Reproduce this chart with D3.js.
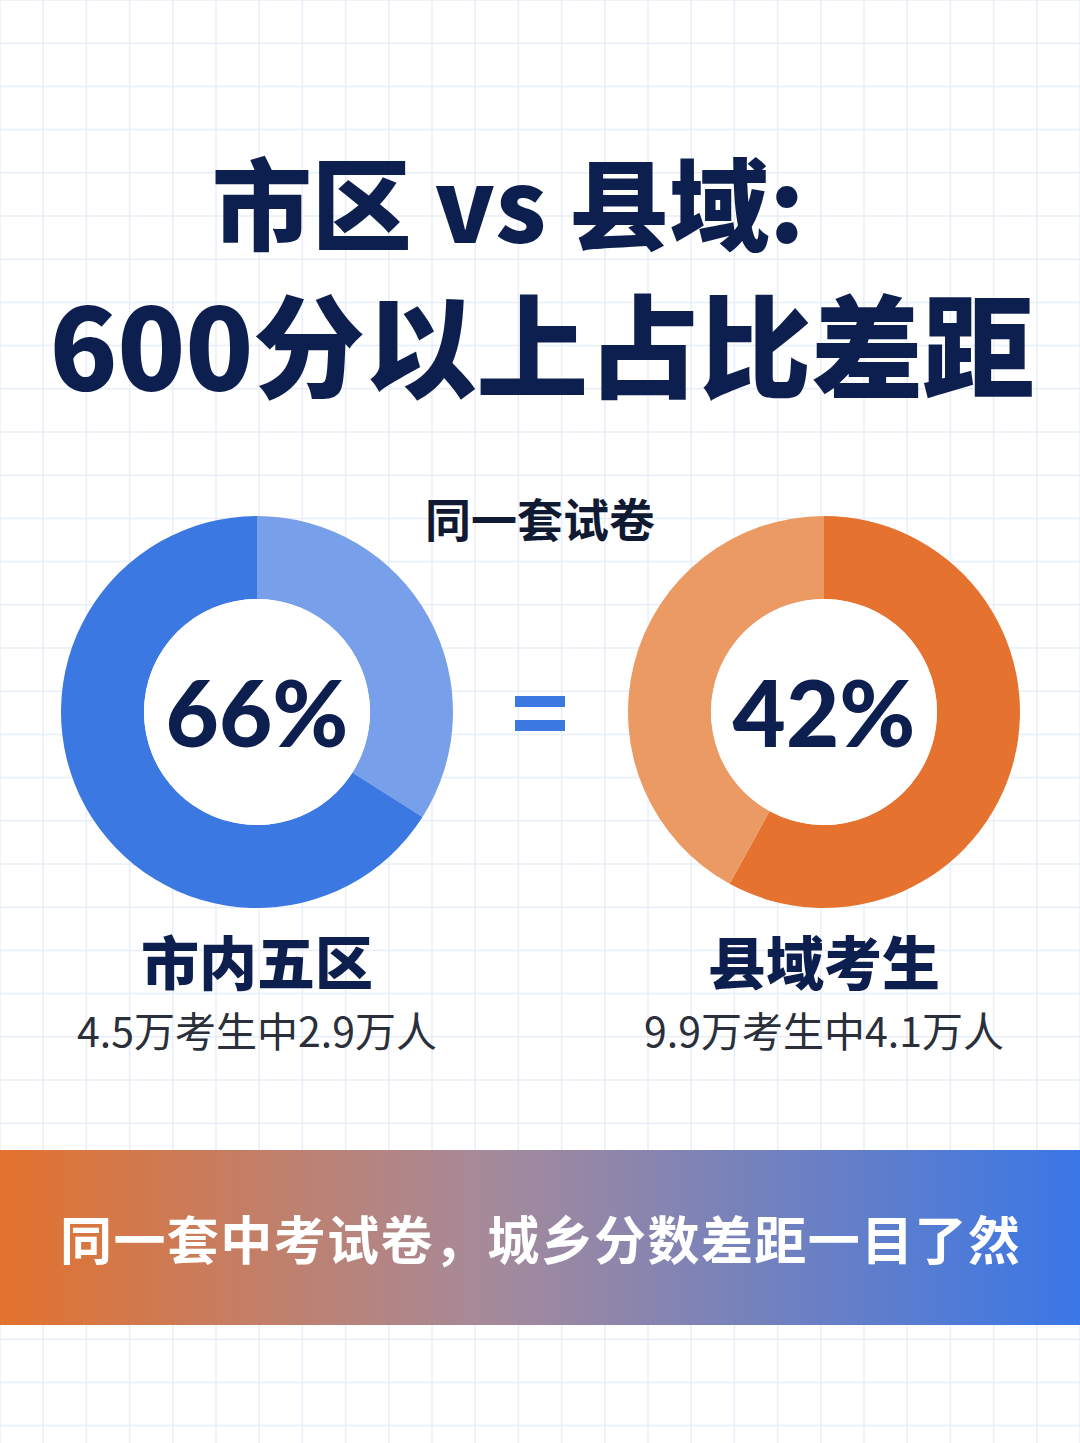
<!DOCTYPE html>
<html><head><meta charset="utf-8">
<script src="https://cdn.jsdelivr.net/npm/d3@7"></script>
<style>body{margin:0;background:#fff}svg{display:block}</style>
</head><body><div id="chart"></div>
<script>
var w = 1080, h = 1443;
var groups = ["市内五区", "县域考生"],
    shares = [66, 42],
    details = ["4.5万考生中2.9万人", "9.9万考生中4.1万人"],
    darkColors = ["#3b78e2", "#e5732f"],
    lightColors = ["#779fea", "#eb9a64"];
var font = "'Noto Sans CJK SC', sans-serif";

var svg = d3.select("#chart").append("svg").attr("width", w).attr("height", h);

// grid background
var gx = d3.range(0, w + 43, 43.2), gy = d3.range(0, h + 43, 43.2);
svg.selectAll(".vx").data(gx).enter().append("line")
    .attr("x1", function(d) { return d; }).attr("x2", function(d) { return d; })
    .attr("y1", 0).attr("y2", h).attr("stroke", "#e8eef7").attr("stroke-width", 1.5);
svg.selectAll(".hy").data(gy).enter().append("line")
    .attr("y1", function(d) { return d; }).attr("y2", function(d) { return d; })
    .attr("x1", 0).attr("x2", w).attr("stroke", "#e8eef7").attr("stroke-width", 1.5);

svg.append("text").attr("x", 508).attr("y", 243).attr("text-anchor", "middle")
    .attr("font-family", font).attr("font-weight", 900).attr("font-size", 100)
    .attr("fill", "#0d1f4e").text("市区 vs 县域:");
svg.append("text").attr("x", 542).attr("y", 390).attr("text-anchor", "middle")
    .attr("font-family", font).attr("font-weight", 900).attr("font-size", 112)
    .attr("textLength", 985).attr("fill", "#0d1f4e").text("600分以上占比差距");
svg.append("text").attr("x", 540).attr("y", 537).attr("text-anchor", "middle")
    .attr("font-family", font).attr("font-weight", 700).attr("font-size", 46)
    .attr("fill", "#111a33").text("同一套试卷");

var x = d3.scalePoint().domain(groups).range([257, 824]);
var arc = d3.arc().innerRadius(113).outerRadius(196);

groups.forEach(function(g, i) {
  var cx = x(g), cy = 712;
  var gg = svg.append("g").attr("transform", "translate(" + cx + "," + cy + ")");
  var pie = d3.pie().sort(null);
  var vals = [100 - shares[i], shares[i]];
  var cols = i === 0 ? [lightColors[i], darkColors[i]] : [darkColors[i], lightColors[i]];
  gg.selectAll("path").data(pie(vals)).enter().append("path")
      .attr("d", arc).attr("fill", function(d, j) { return cols[j]; });
  gg.append("circle").attr("r", 113).attr("fill", "#fff");
  gg.append("text").attr("y", 35).attr("text-anchor", "middle")
      .attr("font-family", "Lato, sans-serif").attr("font-weight", 900).attr("font-size", 92)
      .attr("fill", "#0d1f4e").text(shares[i] + "%");
  svg.append("text").attr("x", cx).attr("y", 985).attr("text-anchor", "middle")
      .attr("font-family", font).attr("font-weight", 900).attr("font-size", 58)
      .attr("fill", "#0d1f4e").text(g);
  svg.append("text").attr("x", cx).attr("y", 1047).attr("text-anchor", "middle")
      .attr("font-family", font).attr("font-weight", 400).attr("font-size", 41)
      .attr("fill", "#2a2f3a").text(details[i]);
});

// equals sign
svg.selectAll(".eq").data([696, 720]).enter().append("rect")
    .attr("x", 515).attr("y", function(d) { return d; }).attr("width", 50).attr("height", 11)
    .attr("fill", "#3b78e2");

// banner
var grad = svg.append("defs").append("linearGradient").attr("id", "bg");
grad.append("stop").attr("offset", "0%").attr("stop-color", "#e3722e");
grad.append("stop").attr("offset", "45%").attr("stop-color", "#a68a9a");
grad.append("stop").attr("offset", "100%").attr("stop-color", "#3a77e6");
svg.append("rect").attr("x", 0).attr("y", 1150).attr("width", w).attr("height", 175).attr("fill", "url(#bg)");
svg.append("text").attr("x", 540).attr("y", 1260).attr("text-anchor", "middle")
    .attr("font-family", font).attr("font-weight", 700).attr("font-size", 52)
    .attr("textLength", 960).attr("fill", "#fff").text("同一套中考试卷，城乡分数差距一目了然");
</script></body></html>
